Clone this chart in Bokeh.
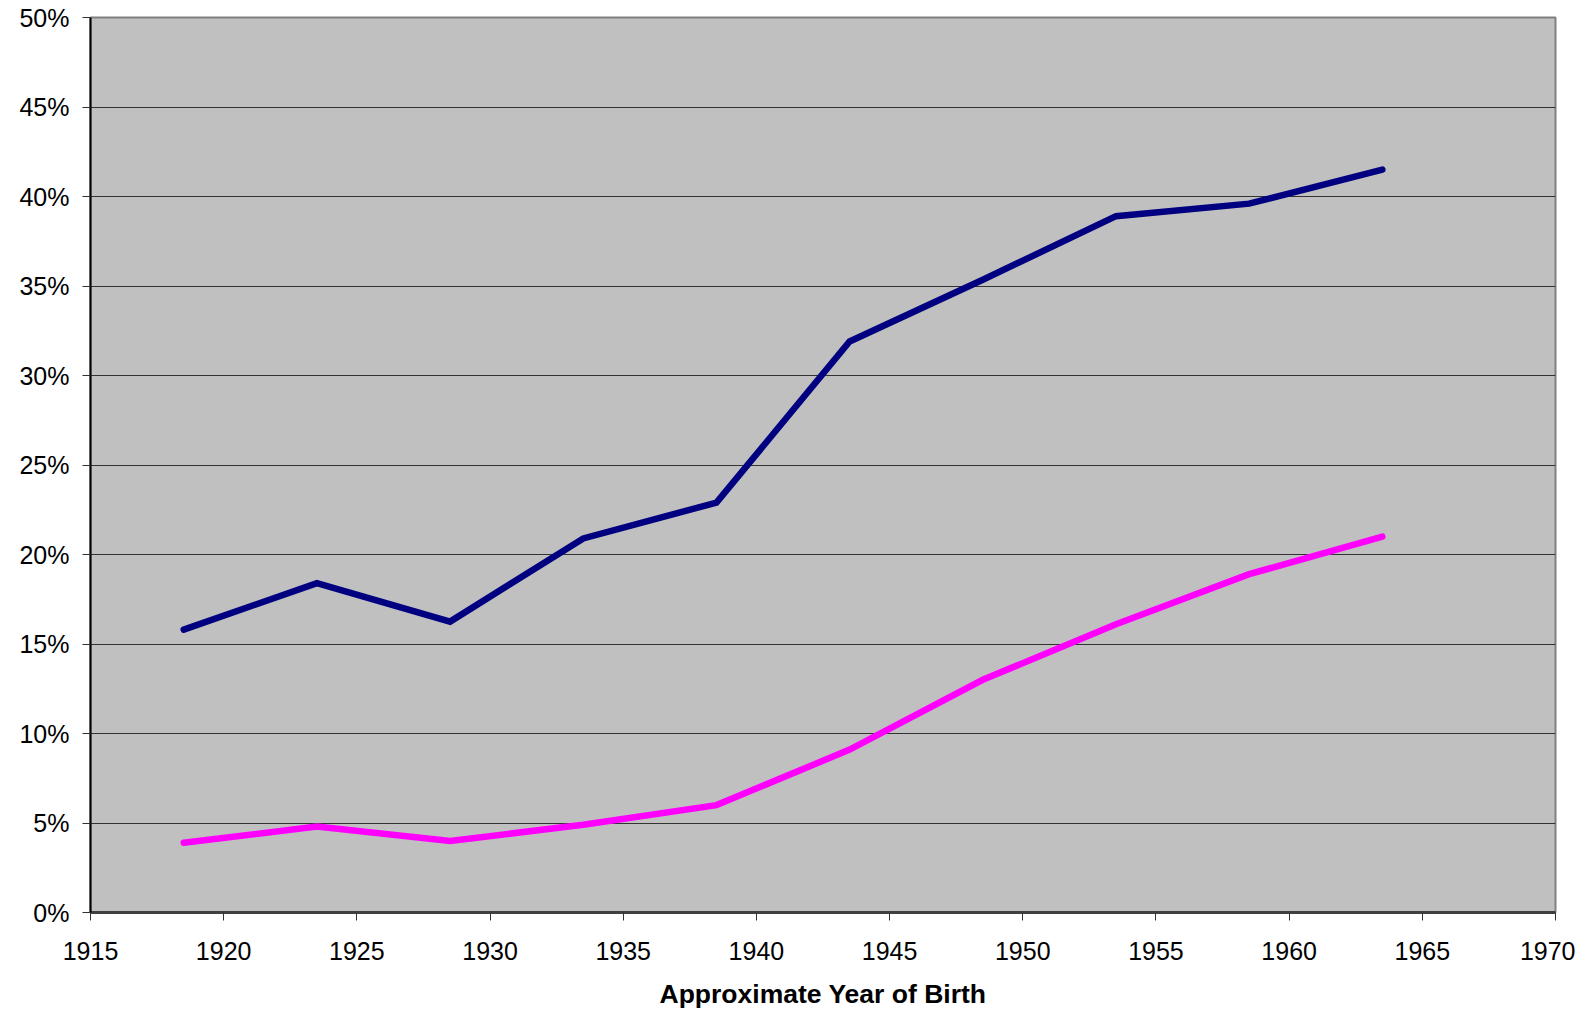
from bokeh.plotting import figure
from bokeh.models import Range1d, FixedTicker, PrintfTickFormatter
from bokeh.embed import file_html
from bokeh.resources import INLINE

years = [1918.5, 1923.5, 1928.5, 1933.5, 1938.5, 1943.5, 1948.5, 1953.5, 1958.5, 1963.5]
series_blue = [15.8, 18.4, 16.25, 20.9, 22.9, 31.9, 35.35, 38.9, 39.6, 41.5]
series_pink = [3.9, 4.8, 4.0, 4.9, 6.0, 9.1, 13.0, 16.1, 18.9, 21.0]
x_ticks = [1915, 1920, 1925, 1930, 1935, 1940, 1945, 1950, 1955, 1960, 1965, 1970]
y_ticks = [0, 5, 10, 15, 20, 25, 30, 35, 40, 45, 50]
x_title = "Approximate Year of Birth"

p = figure(width=1575, height=1012, output_backend="svg", toolbar_location=None,
           x_range=Range1d(1915, 1970), y_range=Range1d(0, 50),
           min_border_left=90, min_border_right=20, min_border_top=17, min_border_bottom=100)

p.background_fill_color = "#C0C0C0"
p.border_fill_color = "white"
p.outline_line_color = "#808080"
p.outline_line_width = 2

font = "Liberation Sans"

p.xaxis.ticker = FixedTicker(ticks=x_ticks)
p.yaxis.ticker = FixedTicker(ticks=y_ticks)
p.yaxis.formatter = PrintfTickFormatter(format="%d%%")

for ax in (p.xaxis, p.yaxis):
    ax.major_label_text_font = font
    ax.major_label_text_font_size = "25px"
    ax.major_label_text_color = "black"
    ax.major_tick_in = 0
    ax.major_tick_out = 8
    ax.minor_tick_in = 0
    ax.minor_tick_out = 0
    ax.major_tick_line_color = "#333333"

p.yaxis.axis_line_color = "black"
p.yaxis.axis_line_width = 2
p.yaxis.major_label_standoff = 13
p.xaxis.axis_line_color = "#404040"
p.xaxis.axis_line_width = 3
p.xaxis.major_label_standoff = 21

p.xaxis.axis_label = x_title
p.xaxis.axis_label_text_font = font
p.xaxis.axis_label_text_font_size = "26.5px"
p.xaxis.axis_label_text_font_style = "bold"
p.xaxis.axis_label_text_color = "black"
p.xaxis.axis_label_standoff = 16

p.xgrid.visible = False
p.ygrid.ticker = FixedTicker(ticks=y_ticks)
p.ygrid.grid_line_color = "#333333"
p.ygrid.grid_line_width = 1

p.line(years, series_blue, line_color="#000080", line_width=6.5, line_cap="round", line_join="miter")
p.line(years, series_pink, line_color="#FF00FF", line_width=6.5, line_cap="round", line_join="miter")

open("out.html", "w").write(file_html(p, INLINE))
